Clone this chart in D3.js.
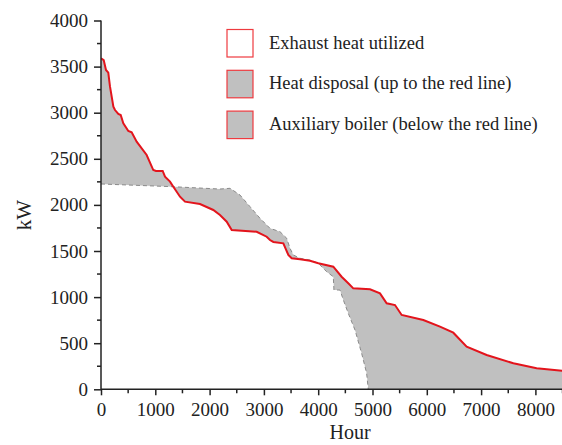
<!DOCTYPE html>
<html><head><meta charset="utf-8">
<script src="https://cdn.jsdelivr.net/npm/d3@7"></script>
<style>body{margin:0;background:#fff}svg{display:block}</style>
</head><body>
<script>
// Exhaust heat available (red line): hours and kW
const redHours = [0,50,92,134,166,228,258,319,363,411,503,565,657,841,963,1013,1136,1179,1271,1332,1455,1547,1823,2068,2191,2315,2407,2867,3051,3112,3174,3358,3450,3512,3665,3849,4002,4278,4431,4554,4646,4954,5138,5261,5414,5537,5936,6243,6488,6734,7102,7594,8023,8490,8760];
const redKW    = [3590,3570,3463,3434,3282,3065,3029,2986,2975,2885,2801,2787,2686,2541,2378,2368,2368,2306,2252,2197,2089,2035,2010,1945,1890,1818,1728,1709,1655,1619,1598,1583,1457,1421,1410,1395,1367,1330,1221,1150,1095,1085,1041,933,914,806,752,679,614,462,372,282,228,202,195];
// Heat demand (gray dashed boundary)
const demandHours = [0,1332,2190,2376,2560,2744,2928,3112,3297,3420,3481,3542,3665,3849,4002,4033,4155,4278,4290,4401,4463,4554,4678,4800,4892,4922,8760];
const demandKW    = [2227,2197,2172,2180,2107,1981,1855,1746,1709,1638,1529,1457,1421,1402,1367,1348,1276,1221,1077,1077,969,824,643,390,174,0,0];
const xTicks = [0,1000,2000,3000,4000,5000,6000,7000,8000];
const yTicks = [0,500,1000,1500,2000,2500,3000,3500,4000];
const legendLabels = ["Exhaust heat utilized","Heat disposal (up to the red line)","Auxiliary boiler (below the red line)"];
const legendFills = ["#ffffff","#c0c0c0","#c0c0c0"];

const W=562,H=445;
const svg=d3.select("body").append("svg").attr("width",W).attr("height",H);
const x=d3.scaleLinear().domain([0,8760]).range([101,101+8.76*54.3]);
const y=d3.scaleLinear().domain([0,4000]).range([389.3,20.5]);
const font="'Liberation Serif', 'Times New Roman', serif";

const redPts=redHours.map((h,i)=>[h,redKW[i]]);
const demPts=demandHours.map((h,i)=>[h,demandKW[i]]);
const line=d3.line().x(d=>x(d[0])).y(d=>y(d[1]));

svg.append("defs").append("clipPath").attr("id","c").append("rect")
  .attr("x",x(0)).attr("y",0).attr("width",W-x(0)).attr("height",y(0));
const g=svg.append("g").attr("clip-path","url(#c)");
g.append("path").attr("d",line(redPts.concat(demPts.slice().reverse()))+"Z")
  .attr("fill","#c0c0c0").attr("fill-rule","evenodd").attr("stroke","none");
g.append("path").attr("d",line(demPts.filter(d=>d[0]<=4922)))
  .attr("fill","none").attr("stroke","#8a8a8a").attr("stroke-width",1).attr("stroke-dasharray","4,3");
g.append("path").attr("d",line(redPts)).attr("fill","none").attr("stroke","#e3141c").attr("stroke-width",2);

// axes
const xMinor=d3.range(500,8760,1000), yMinor=d3.range(250,4000,500);
const xa=svg.append("g").attr("transform",`translate(0,${y(0)})`)
  .call(d3.axisBottom(x).tickValues(xTicks).tickFormat(d3.format("d")).tickSize(6).tickPadding(4));
xa.select(".domain").attr("d",`M${x(0)},0H${W}`);
xMinor.forEach(v=>xa.append("line").attr("x1",x(v)).attr("x2",x(v)).attr("y1",0).attr("y2",4).attr("stroke","#222").attr("stroke-width",1.5));
const ya=svg.append("g").attr("transform",`translate(${x(0)},0)`)
  .call(d3.axisLeft(y).tickValues(yTicks).tickFormat(d3.format("d")).tickSize(7).tickPadding(6));
yMinor.forEach(v=>ya.append("line").attr("x1",-4).attr("x2",0).attr("y1",y(v)).attr("y2",y(v)).attr("stroke","#222").attr("stroke-width",1.5));
[xa,ya].forEach(a=>{
  a.attr("font-family",font).attr("font-size",19);
  a.select(".domain").attr("stroke","#222").attr("stroke-width",1.5);
  a.selectAll(".tick line").attr("stroke","#222").attr("stroke-width",1.5);
  a.selectAll(".tick text").attr("font-family",font).attr("font-size",19).attr("fill","#222");
});
ya.select(".domain").attr("d",`M0,${y(0)}V${y(4000)}`);
xa.selectAll(".tick text").attr("dy","0.9em");

svg.append("text").attr("x",350).attr("y",439).attr("text-anchor","middle")
  .attr("font-family",font).attr("font-size",20).attr("fill","#222").text("Hour");
svg.append("text").attr("transform","translate(31,215) rotate(-90)").attr("text-anchor","middle")
  .attr("font-family",font).attr("font-size",21).attr("fill","#222").text("kW");

// legend
const lg=svg.append("g");
legendLabels.forEach((t,i)=>{
  const yy=29.5+i*40.8;
  lg.append("rect").attr("x",227).attr("y",yy).attr("width",26).attr("height",27.5)
    .attr("fill",legendFills[i]).attr("stroke","#ee3a3f").attr("stroke-width",1.2);
  lg.append("text").attr("x",269).attr("y",yy+19).attr("font-family",font).attr("font-size",18.5)
    .attr("fill","#222").text(t);
});
</script>
</body></html>
